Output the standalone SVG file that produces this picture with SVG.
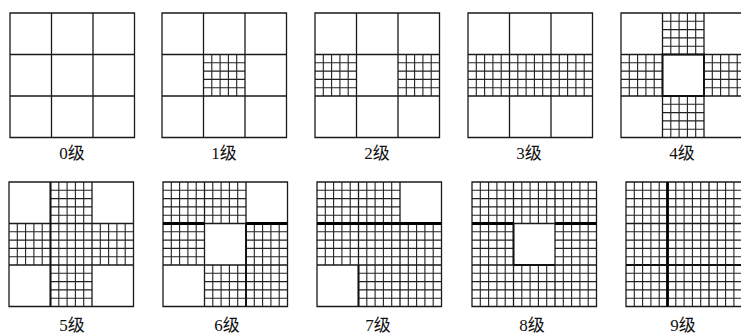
<svg xmlns="http://www.w3.org/2000/svg" xmlns:xlink="http://www.w3.org/1999/xlink" width="741" height="334" viewBox="0 0 741 334">
<style>
.f{fill:none;stroke:#1a1a1a;stroke-width:1.3}
.h{fill:none;stroke:#222;stroke-width:1.1}
.t{stroke:#000;stroke-width:2.8;fill:none}
.m{stroke:#111;stroke-width:1.9;fill:none}
.lb{font-family:"Liberation Serif","Noto Sans CJK SC",serif;font-size:17px;fill:#111;text-anchor:middle}
</style>
<defs>
<path id="h" class="h" d="M8.3 0V41.5M16.6 0V41.5M24.9 0V41.5M33.2 0V41.5M0 8.3H41.5M0 16.6H41.5M0 24.9H41.5M0 33.2H41.5"/>
<path id="fr" class="f" d="M0 0H124.5V124.5H0ZM41.5 0V124.5M83 0V124.5M0 41.5H124.5M0 83H124.5"/>
</defs>
<rect width="741" height="334" fill="#fff"/>
<g id="g0" transform="translate(10,13)">
<use xlink:href="#fr"/>
</g>
<g id="g1" transform="translate(162,13)">
<use xlink:href="#h" x="41.5" y="41.5"/>
<use xlink:href="#fr"/>
</g>
<g id="g2" transform="translate(315,13)">
<use xlink:href="#h" x="0" y="41.5"/><use xlink:href="#h" x="83" y="41.5"/>
<use xlink:href="#fr"/>
</g>
<g id="g3" transform="translate(468,13)">
<use xlink:href="#h" x="0" y="41.5"/><use xlink:href="#h" x="41.5" y="41.5"/><use xlink:href="#h" x="83" y="41.5"/>
<use xlink:href="#fr"/>
</g>
<g id="g4" transform="translate(621,13)">
<use xlink:href="#h" x="41.5" y="0"/><use xlink:href="#h" x="0" y="41.5"/><use xlink:href="#h" x="83" y="41.5"/><use xlink:href="#h" x="41.5" y="83"/>
<use xlink:href="#fr"/>
<path class="m" d="M41.5 41.5H83V83H41.5Z"/>
</g>
<g id="g5" transform="translate(9,182)">
<use xlink:href="#h" x="41.5" y="0"/><use xlink:href="#h" x="0" y="41.5"/><use xlink:href="#h" x="41.5" y="41.5"/><use xlink:href="#h" x="83" y="41.5"/><use xlink:href="#h" x="41.5" y="83"/>
<use xlink:href="#fr"/>
<path class="m" d="M41.5 0V124.5"/>
</g>
<g id="g6" transform="translate(163,182)">
<use xlink:href="#h" x="0" y="0"/><use xlink:href="#h" x="41.5" y="0"/><use xlink:href="#h" x="0" y="41.5"/><use xlink:href="#h" x="83" y="41.5"/><use xlink:href="#h" x="41.5" y="83"/><use xlink:href="#h" x="83" y="83"/>
<use xlink:href="#fr"/>
<path class="t" d="M0 41.5H41.5M83 41.5H124.5"/>
<path class="m" d="M83 41.5V124.5"/>
</g>
<g id="g7" transform="translate(317,182)">
<use xlink:href="#h" x="0" y="0"/><use xlink:href="#h" x="41.5" y="0"/><use xlink:href="#h" x="0" y="41.5"/><use xlink:href="#h" x="41.5" y="41.5"/><use xlink:href="#h" x="83" y="41.5"/><use xlink:href="#h" x="41.5" y="83"/><use xlink:href="#h" x="83" y="83"/>
<use xlink:href="#fr"/>
<path class="t" d="M0 41.5H124.5"/>
<path class="m" d="M41.5 83V124.5"/>
</g>
<g id="g8" transform="translate(472,182)">
<use xlink:href="#h" x="0" y="0"/><use xlink:href="#h" x="41.5" y="0"/><use xlink:href="#h" x="83" y="0"/><use xlink:href="#h" x="0" y="41.5"/><use xlink:href="#h" x="83" y="41.5"/><use xlink:href="#h" x="0" y="83"/><use xlink:href="#h" x="41.5" y="83"/><use xlink:href="#h" x="83" y="83"/>
<use xlink:href="#fr"/>
<path class="t" d="M0 41.5H41.5M83 41.5H124.5"/>
<path class="m" d="M41.5 41.5V83M41.5 83H83"/>
</g>
<g id="g9" transform="translate(626,182)">
<use xlink:href="#h" x="0" y="0"/><use xlink:href="#h" x="41.5" y="0"/><use xlink:href="#h" x="83" y="0"/><use xlink:href="#h" x="0" y="41.5"/><use xlink:href="#h" x="41.5" y="41.5"/><use xlink:href="#h" x="83" y="41.5"/><use xlink:href="#h" x="0" y="83"/><use xlink:href="#h" x="41.5" y="83"/><use xlink:href="#h" x="83" y="83"/>
<use xlink:href="#fr"/>
<path class="t" d="M41.5 0V124.5"/>
<path class="m" d="M0 83H124.5"/>
</g>
<g id="labels">
<text class="lb" x="72" y="159">0级</text>
<text class="lb" x="224" y="159">1级</text>
<text class="lb" x="377" y="159">2级</text>
<text class="lb" x="529" y="159">3级</text>
<text class="lb" x="682" y="159">4级</text>
<text class="lb" x="72" y="331">5级</text>
<text class="lb" x="227" y="331">6级</text>
<text class="lb" x="378" y="331">7级</text>
<text class="lb" x="532" y="331">8级</text>
<text class="lb" x="683" y="331">9级</text>
</g>
</svg>
